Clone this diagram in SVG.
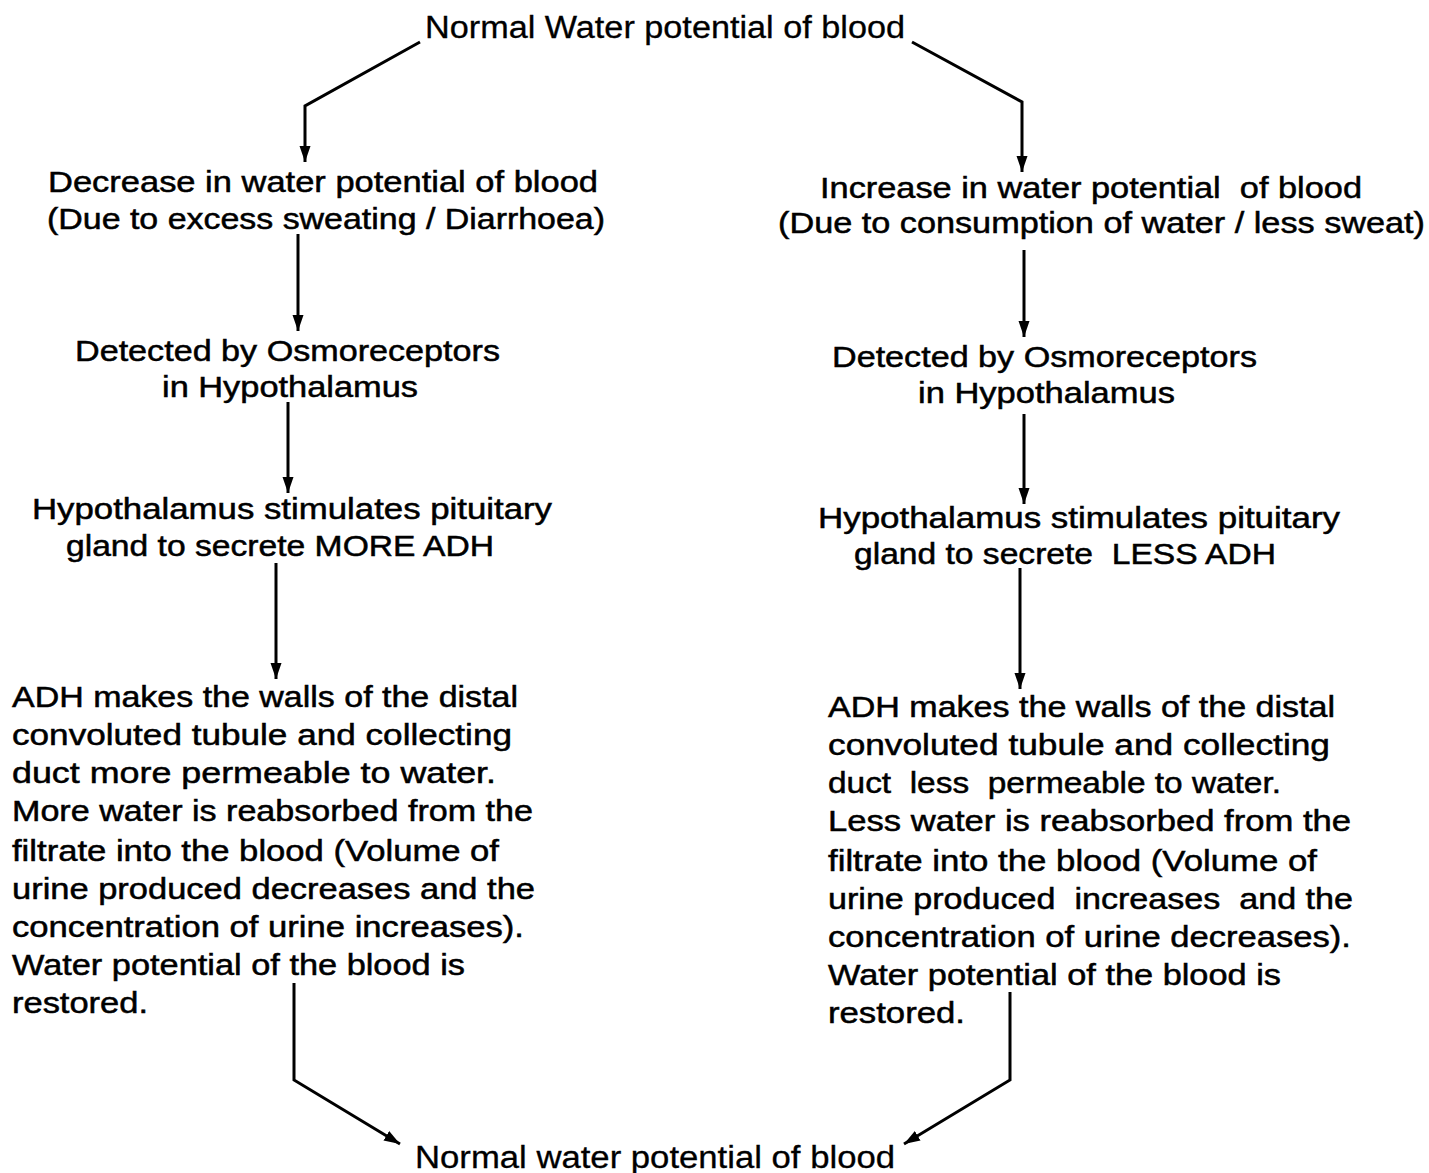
<svg xmlns="http://www.w3.org/2000/svg" width="1429" height="1173" viewBox="0 0 1429 1173">
<defs>
<marker id="ah" viewBox="0 0 16 12" refX="16" refY="6" markerWidth="16" markerHeight="12" markerUnits="userSpaceOnUse" orient="auto">
<path d="M0,0.5 L16,6 L0,11.5 Z" fill="#000"/>
</marker>
<style>
text{font-family:"Liberation Sans",Arial,sans-serif;font-size:29px;fill:#000;stroke:#000;stroke-width:0.5;white-space:pre}
.t{font-size:31px;stroke-width:0.3}
.ln{fill:none;stroke:#000;stroke-width:3}
</style>
</defs>
<rect width="1429" height="1173" fill="#fff"/>
<g id="connectors">
<polyline class="ln" points="420,42 305,106 305,162" marker-end="url(#ah)"/>
<polyline class="ln" points="912,42 1022,102 1022,172" marker-end="url(#ah)"/>
<line class="ln" x1="298" y1="234" x2="298" y2="331" marker-end="url(#ah)"/>
<line class="ln" x1="288" y1="402" x2="288" y2="493" marker-end="url(#ah)"/>
<line class="ln" x1="276" y1="563" x2="276" y2="679" marker-end="url(#ah)"/>
<line class="ln" x1="1024" y1="250" x2="1024" y2="337" marker-end="url(#ah)"/>
<line class="ln" x1="1024" y1="414" x2="1024" y2="504" marker-end="url(#ah)"/>
<line class="ln" x1="1020" y1="568" x2="1020" y2="689" marker-end="url(#ah)"/>
<polyline class="ln" points="294,983 294,1080 400,1144" marker-end="url(#ah)"/>
<polyline class="ln" points="1010,992 1010,1080 904,1144" marker-end="url(#ah)"/>
</g>
<g id="top">
<text class="t" x="425" y="38" textLength="480" lengthAdjust="spacingAndGlyphs">Normal Water potential of blood</text>
</g>
<g id="left1">
<text x="48" y="192" textLength="550" lengthAdjust="spacingAndGlyphs">Decrease in water potential of blood</text>
<text x="47" y="229" textLength="558" lengthAdjust="spacingAndGlyphs">(Due to excess sweating / Diarrhoea)</text>
</g>
<g id="left2">
<text x="75" y="361" textLength="425" lengthAdjust="spacingAndGlyphs">Detected by Osmoreceptors</text>
<text x="162" y="397" textLength="256" lengthAdjust="spacingAndGlyphs">in Hypothalamus</text>
</g>
<g id="left3">
<text x="32" y="519" textLength="520" lengthAdjust="spacingAndGlyphs">Hypothalamus stimulates pituitary</text>
<text x="66" y="556" textLength="428" lengthAdjust="spacingAndGlyphs">gland to secrete MORE ADH</text>
</g>
<g id="left4">
<text x="12" y="707" textLength="506" lengthAdjust="spacingAndGlyphs">ADH makes the walls of the distal</text>
<text x="12" y="745" textLength="500" lengthAdjust="spacingAndGlyphs">convoluted tubule and collecting</text>
<text x="12" y="783" textLength="484" lengthAdjust="spacingAndGlyphs">duct more permeable to water.</text>
<text x="12" y="821" textLength="521" lengthAdjust="spacingAndGlyphs">More water is reabsorbed from the</text>
<text x="12" y="861" textLength="487" lengthAdjust="spacingAndGlyphs">filtrate into the blood (Volume of</text>
<text x="12" y="899" textLength="523" lengthAdjust="spacingAndGlyphs">urine produced decreases and the</text>
<text x="12" y="937" textLength="512" lengthAdjust="spacingAndGlyphs">concentration of urine increases).</text>
<text x="12" y="975" textLength="453" lengthAdjust="spacingAndGlyphs">Water potential of the blood is</text>
<text x="12" y="1013" textLength="136" lengthAdjust="spacingAndGlyphs">restored.</text>
</g>
<g id="right1">
<text x="820" y="198" textLength="542" lengthAdjust="spacingAndGlyphs">Increase in water potential  of blood</text>
<text x="778" y="233" textLength="647" lengthAdjust="spacingAndGlyphs">(Due to consumption of water / less sweat)</text>
</g>
<g id="right2">
<text x="832" y="367" textLength="425" lengthAdjust="spacingAndGlyphs">Detected by Osmoreceptors</text>
<text x="918" y="403" textLength="257" lengthAdjust="spacingAndGlyphs">in Hypothalamus</text>
</g>
<g id="right3">
<text x="818" y="528" textLength="522" lengthAdjust="spacingAndGlyphs">Hypothalamus stimulates pituitary</text>
<text x="854" y="564" textLength="422" lengthAdjust="spacingAndGlyphs">gland to secrete  LESS ADH</text>
</g>
<g id="right4">
<text x="828" y="717" textLength="507" lengthAdjust="spacingAndGlyphs">ADH makes the walls of the distal</text>
<text x="828" y="755" textLength="502" lengthAdjust="spacingAndGlyphs">convoluted tubule and collecting</text>
<text x="828" y="793" textLength="453" lengthAdjust="spacingAndGlyphs">duct  less  permeable to water.</text>
<text x="828" y="831" textLength="523" lengthAdjust="spacingAndGlyphs">Less water is reabsorbed from the</text>
<text x="828" y="871" textLength="489" lengthAdjust="spacingAndGlyphs">filtrate into the blood (Volume of</text>
<text x="828" y="909" textLength="525" lengthAdjust="spacingAndGlyphs">urine produced  increases  and the</text>
<text x="828" y="947" textLength="523" lengthAdjust="spacingAndGlyphs">concentration of urine decreases).</text>
<text x="828" y="985" textLength="453" lengthAdjust="spacingAndGlyphs">Water potential of the blood is</text>
<text x="828" y="1023" textLength="137" lengthAdjust="spacingAndGlyphs">restored.</text>
</g>
<g id="bottom">
<text class="t" x="415" y="1168" textLength="480" lengthAdjust="spacingAndGlyphs">Normal water potential of blood</text>
</g>
</svg>
